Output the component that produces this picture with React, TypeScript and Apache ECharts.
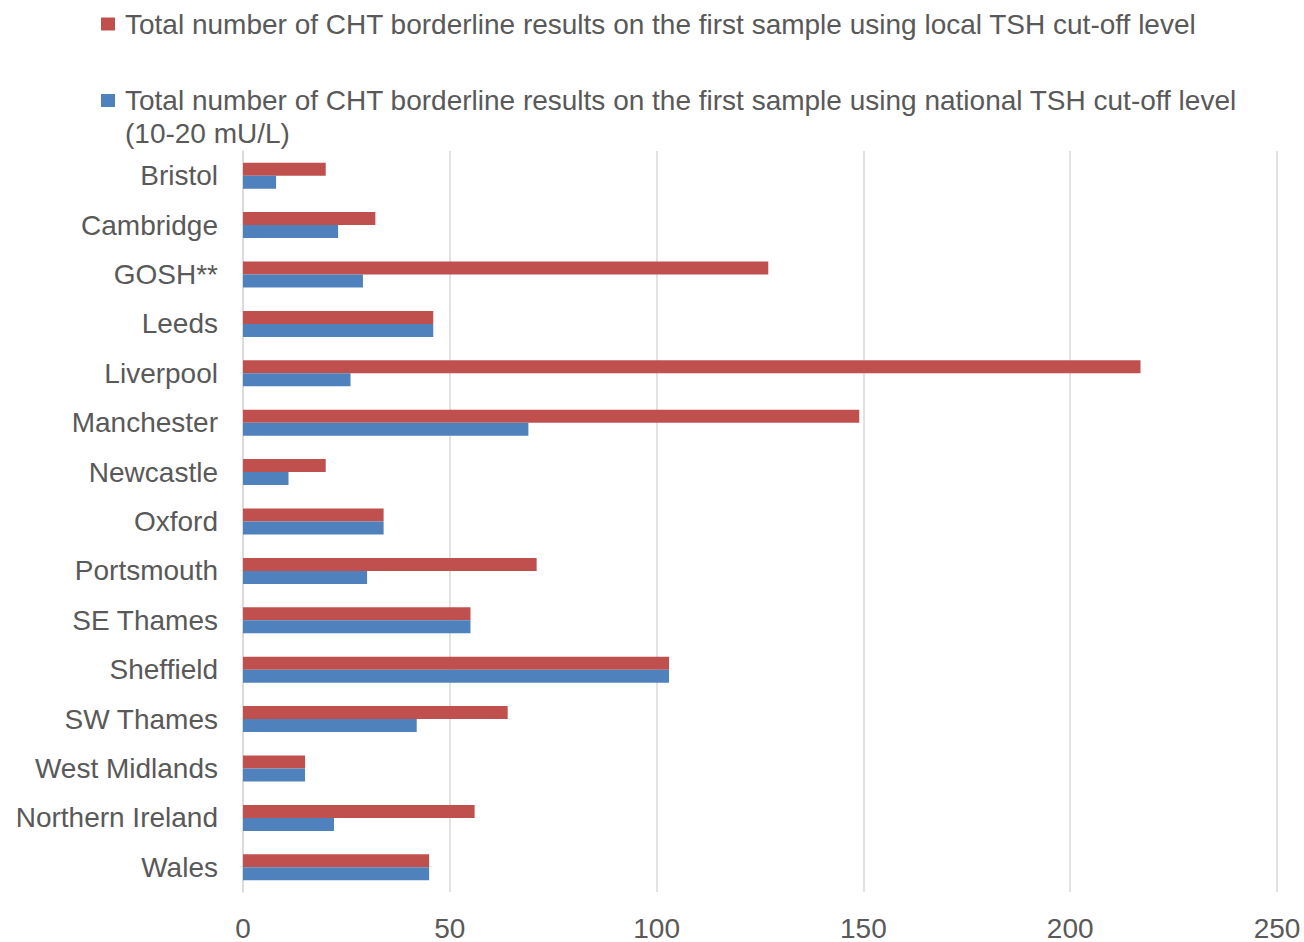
import React, { useEffect, useRef } from "react";
import * as echarts from "echarts";

const categories = [
  "Bristol",
  "Cambridge",
  "GOSH**",
  "Leeds",
  "Liverpool",
  "Manchester",
  "Newcastle",
  "Oxford",
  "Portsmouth",
  "SE Thames",
  "Sheffield",
  "SW Thames",
  "West Midlands",
  "Northern Ireland",
  "Wales",
];

const localName =
  "Total number of CHT borderline results on the first sample using local TSH cut-off level";
const nationalName =
  "Total number of CHT borderline results on the first sample using national TSH cut-off level (10-20 mU/L)";
const nationalLines = [
  "Total number of CHT borderline results on the first sample using national TSH cut-off level",
  "(10-20 mU/L)",
];

const localValues = [20, 32, 127, 46, 217, 149, 20, 34, 71, 55, 103, 64, 15, 56, 45];
const nationalValues = [8, 23, 29, 46, 26, 69, 11, 34, 30, 55, 103, 42, 15, 22, 45];

const FONT = "'Liberation Sans', Arial, sans-serif";
const TEXT = "#595959";
const GRID = "#D9D9D9";
const FS = 28;

export default function App() {
  const ref = useRef<HTMLDivElement>(null);
  useEffect(() => {
    if (!ref.current) return;
    const chart = echarts.init(ref.current, null, { renderer: "svg" });
    chart.setOption({
      animation: false,
      textStyle: { fontFamily: FONT },
      legend: [
        {
          data: [localName],
          orient: "vertical",
          left: 101,
          top: 7,
          padding: 0,
          itemWidth: 14,
          itemHeight: 13,
          icon: "rect",
          textStyle: {
            fontFamily: FONT,
            fontSize: FS,
            color: TEXT,
            lineHeight: 34,
            padding: [0, 0, 0, 5],
          },
        },
        {
          data: [nationalName],
          orient: "vertical",
          left: 101,
          top: 51,
          padding: 0,
          itemWidth: 14,
          itemHeight: 13,
          icon: "rect",
          formatter: () => "\n" + nationalLines.join("\n"),
          textStyle: {
            fontFamily: FONT,
            fontSize: FS,
            color: TEXT,
            lineHeight: 33,
            padding: [0, 0, 0, 5],
          },
        },
      ],
      grid: { left: 243, right: 27, top: 151, bottom: 46, containLabel: false },
      xAxis: {
        type: "value",
        min: 0,
        max: 250,
        interval: 50,
        axisLine: { show: false },
        axisTick: { show: false },
        splitLine: { show: true, lineStyle: { color: GRID, width: 1.5 } },
        axisLabel: { fontFamily: FONT, fontSize: FS, color: TEXT, margin: 22 },
      },
      yAxis: {
        type: "category",
        data: categories,
        inverse: true,
        axisLine: { show: true, lineStyle: { color: GRID, width: 1.5 } },
        axisTick: { show: false },
        axisLabel: { fontFamily: FONT, fontSize: FS, color: TEXT, margin: 25 },
      },
      series: [
        {
          name: localName,
          type: "bar",
          data: localValues,
          barWidth: 13,
          barGap: "0%",
          itemStyle: { color: "#C0504D" },
        },
        {
          name: nationalName,
          type: "bar",
          data: nationalValues,
          barWidth: 13,
          barGap: "0%",
          itemStyle: { color: "#4F81BD" },
        },
      ],
    });
    return () => chart.dispose();
  }, []);
  return <div ref={ref} style={{ width: 1304, height: 942, position: "absolute", left: 0, top: 0 }} />;
}
